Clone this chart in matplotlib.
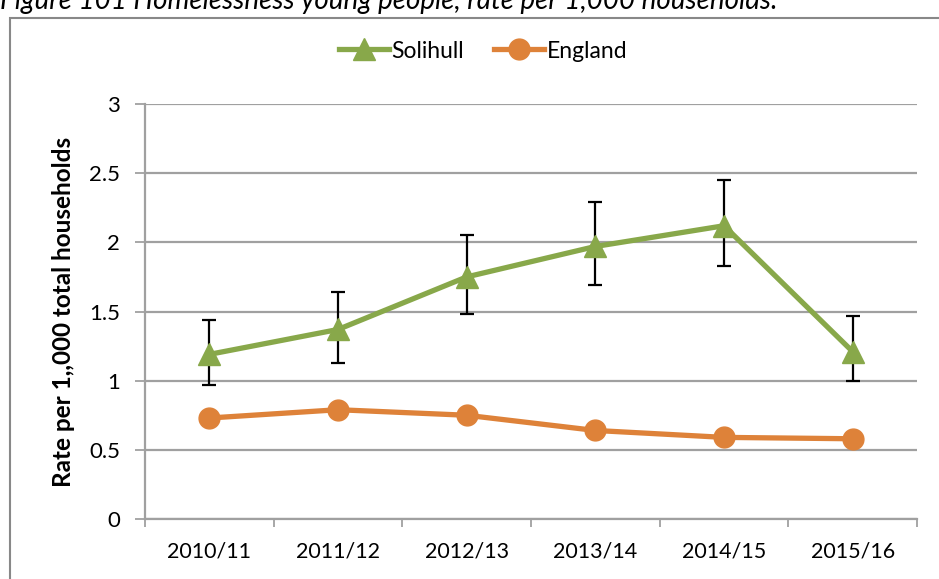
import matplotlib
matplotlib.use("Agg")
import matplotlib.pyplot as plt
from matplotlib.patches import Rectangle
from matplotlib.lines import Line2D

plt.rcParams['font.family'] = ['Lato', 'DejaVu Sans']

# data
years = ["2010/11", "2011/12", "2012/13", "2013/14", "2014/15", "2015/16"]
solihull = [1.19, 1.37, 1.75, 1.97, 2.12, 1.21]
solihull_low = [0.97, 1.13, 1.48, 1.69, 1.83, 1.00]
solihull_high = [1.44, 1.64, 2.05, 2.29, 2.45, 1.47]
england = [0.73, 0.79, 0.75, 0.64, 0.59, 0.58]

green = "#88A84A"
orange = "#DE8239"
grey = "#A0A0A0"

W, H = 939, 579
fig = plt.figure(figsize=(W / 100, H / 100), dpi=100)
ax = fig.add_axes([145 / W, (H - 519) / H, (917 - 145) / W, (519 - 104) / H])

x = list(range(len(years)))
err = [[s - l for s, l in zip(solihull, solihull_low)],
       [h - s for s, h in zip(solihull, solihull_high)]]

ax.errorbar(x, solihull, yerr=err, fmt="none", ecolor="black", elinewidth=1.6,
            capsize=5, capthick=1.6, zorder=3)
ax.plot(x, solihull, color=green, lw=3.8, marker="^", markersize=16, zorder=4)
ax.plot(x, england, color=orange, lw=3.8, marker="o", markersize=15, zorder=4)

ax.set_xlim(-0.5, len(years) - 0.5)
ax.set_ylim(0, 3)
ax.set_yticks([0, 0.5, 1, 1.5, 2, 2.5, 3])
ax.set_yticklabels(["0", "0.5", "1", "1.5", "2", "2.5", "3"])
ax.set_xticks(x)
ax.set_xticklabels(years)
ax.set_xticks([i - 0.5 for i in range(len(years) + 1)], minor=True)
ax.tick_params(axis="x", which="major", length=0, pad=16, labelsize=15.5)
ax.tick_params(axis="x", which="minor", length=6, width=1.3, color=grey)
ax.tick_params(axis="y", length=7, width=1.3, color=grey, pad=11, labelsize=16)

ax.yaxis.grid(True, color=grey, lw=1.6)
ax.set_axisbelow(True)
for s in ["top", "right"]:
    ax.spines[s].set_visible(False)
for s in ["left", "bottom"]:
    ax.spines[s].set_color(grey)
    ax.spines[s].set_linewidth(1.6)

ax.set_ylabel("Rate per 1,,000 total households", fontsize=17.5, fontweight="bold",
              labelpad=10)

handles = [Line2D([], [], color=green, lw=3.8, marker="^", markersize=16),
           Line2D([], [], color=orange, lw=3.8, marker="o", markersize=15)]
fig.legend(handles, ["Solihull", "England"], loc="center",
           bbox_to_anchor=(483 / W, 1 - 51 / H), ncol=2, frameon=False,
           fontsize=16.5, handlelength=2.2, handletextpad=0.1, columnspacing=1.3)

# outer chart border, runs off the right and bottom edges
fig.patches.append(Rectangle((10 / W, -0.1), 1.2, 1 - 18 / H + 0.1,
                             transform=fig.transFigure, fill=False,
                             edgecolor="#888888", lw=1.5))

# caption, clipped at the top like the reference
fig.text(0, 1 - 9 / H, "Figure 101 Homelessness young people, rate per 1,000 households.",
         fontsize=20, style="italic", va="baseline", ha="left")

fig.savefig("out.png", dpi=100)
